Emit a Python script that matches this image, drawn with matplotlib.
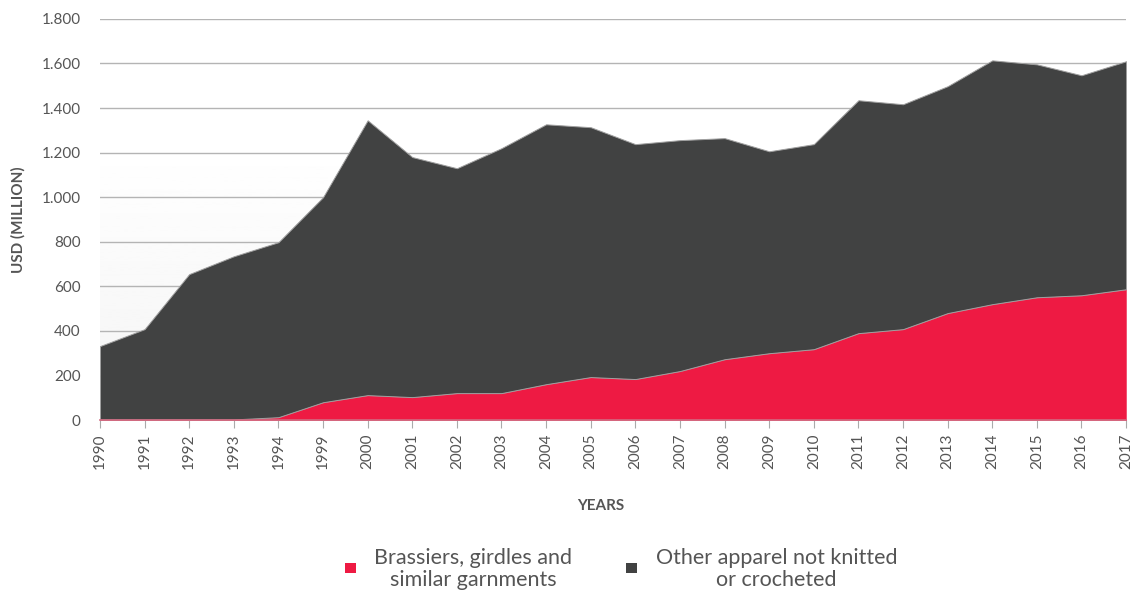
import matplotlib.pyplot as plt
import numpy as np
from matplotlib.patches import Rectangle

# Data (USD million)
years = ['1990', '1991', '1992', '1993', '1994', '1999', '2000', '2001', '2002',
         '2003', '2004', '2005', '2006', '2007', '2008', '2009', '2010', '2011',
         '2012', '2013', '2014', '2015', '2016', '2017']
brassiers = [3, 3, 3, 3, 13, 80, 112, 103, 121, 121, 161, 193, 184, 220, 273,
             300, 318, 390, 408, 480, 520, 551, 560, 587]
other = [329, 405, 652, 732, 785, 920, 1233, 1077, 1009, 1099, 1166, 1121, 1054,
         1036, 992, 906, 920, 1045, 1009, 1018, 1094, 1045, 987, 1023]

RED = '#ee1a43'
DARK = '#414242'
TXT = '#555555'

plt.rcParams['font.family'] = ['Lato', 'DejaVu Sans']

fig = plt.figure(figsize=(11.32, 5.9), dpi=100)
ax = fig.add_axes([0.0883, 0.288, 0.9065, 0.68])

x = np.arange(len(years))

# faint grey gradient behind the lower part of the plot
grad = np.linspace(0.955, 1.0, 256).reshape(-1, 1)
ax.imshow(grad, extent=[0, len(years) - 1, 0, 1250], origin='lower', aspect='auto',
          cmap='gray', vmin=0, vmax=1, zorder=0)

# horizontal grid
ax.set_ylim(0, 1800)
ax.set_yticks(np.arange(0, 1801, 200))
ax.grid(axis='y', color='#b4b4b4', linewidth=1.0, zorder=1)
ax.set_axisbelow(True)

polys = ax.stackplot(x, brassiers, other, colors=[RED, DARK], zorder=2)
polys[0].set_edgecolor('#f05070')
polys[0].set_linewidth(0.6)
polys[1].set_edgecolor('#a0a0a0')
polys[1].set_linewidth(0.7)

ax.set_xlim(0, len(years) - 1)
ax.set_xticks(x)
ax.set_xticklabels(years, rotation=90, fontsize=11, color=TXT)
ax.set_yticklabels([f'{v:,}'.replace(',', '.') for v in range(0, 1801, 200)],
                   fontsize=11, color=TXT)
ax.tick_params(axis='y', length=0, pad=14)
ax.tick_params(axis='x', length=6, color='#aaaaaa', pad=4)

for s in ['top', 'right', 'left']:
    ax.spines[s].set_visible(False)
ax.spines['bottom'].set_color('#d06a80')
ax.spines['bottom'].set_linewidth(1.2)
ax.spines['bottom'].set_zorder(3)

fig.text(0.0165, 0.627, 'USD (MILLION)', rotation=90, ha='center', va='center',
         fontsize=11, fontweight='bold', color=TXT)
fig.text(0.531, 0.143, 'YEARS', ha='center', va='center',
         fontsize=11, fontweight='bold', color=TXT)

# legend
fig.patches.append(Rectangle((0.305, 0.028), 0.0095, 0.018, transform=fig.transFigure,
                             facecolor=RED, edgecolor='none'))
fig.text(0.418, 0.036, 'Brassiers, girdles and\nsimilar garnments', ha='center',
         va='center', fontsize=15.5, color=TXT, linespacing=1.15)
fig.patches.append(Rectangle((0.553, 0.028), 0.0095, 0.018, transform=fig.transFigure,
                             facecolor=DARK, edgecolor='none'))
fig.text(0.686, 0.036, 'Other apparel not knitted\nor crocheted', ha='center',
         va='center', fontsize=15.5, color=TXT, linespacing=1.15)

fig.savefig('out.png', dpi=100)
